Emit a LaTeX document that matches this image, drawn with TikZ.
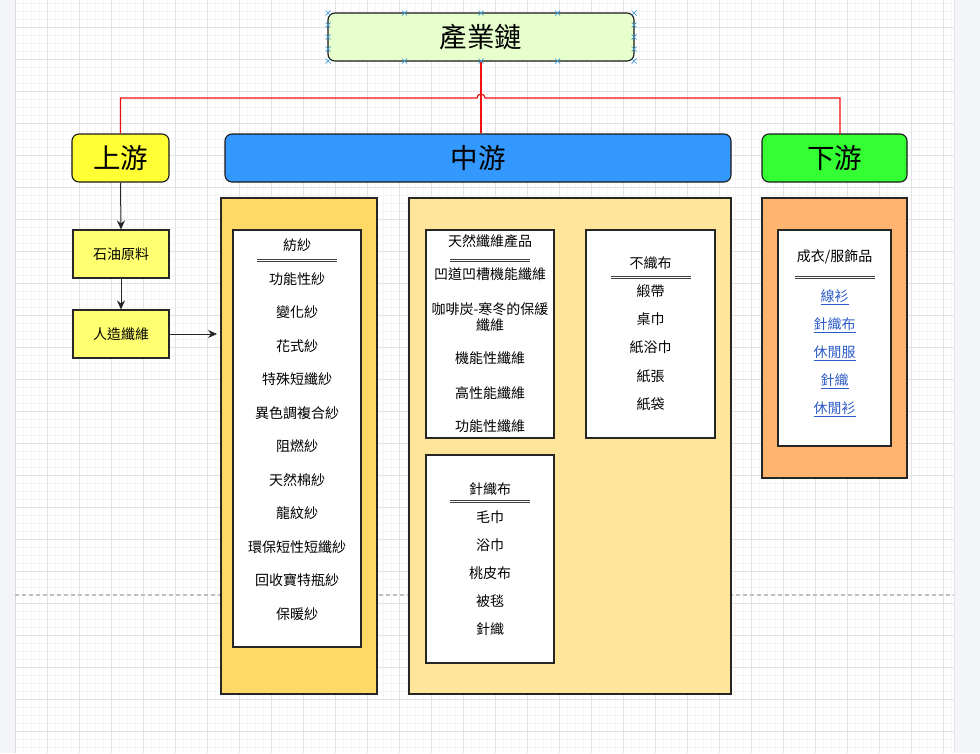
\documentclass[tikz,border=0pt]{standalone}
\usepackage{fontspec}
\newfontfamily\cjk{Noto Sans CJK TC}
\usepackage{xcolor}
\usepackage{tikz}
\usetikzlibrary{arrows.meta, positioning, calc}
\definecolor{titlegreen}{HTML}{E6FFCC}
\definecolor{upyellow}{HTML}{FFFF33}
\definecolor{midblue}{HTML}{3399FF}
\definecolor{downgreen}{HTML}{33FF33}
\definecolor{rawyellow}{HTML}{FFFF70}
\definecolor{yarnfill}{HTML}{FFD966}
\definecolor{midfill}{HTML}{FFE599}
\definecolor{downfill}{HTML}{FFB570}
\definecolor{linkblue}{HTML}{2D5BC8}
\definecolor{chainred}{HTML}{F01010}
\definecolor{gridmajor}{HTML}{E2E2E2}
\definecolor{gridminor}{HTML}{F4F4F4}
\definecolor{sidegray}{HTML}{F4F5F8}
\definecolor{handleblue}{HTML}{3A9BDC}

\tikzset{
  stage/.style={draw=black!90, line width=1.1pt, rounded corners=7pt, font=\cjk\fontsize{27.5}{32}\selectfont},
  panel/.style={draw=black!85, line width=1.1pt},
  listbox/.style={draw=black!85, line width=1.1pt, fill=white},
  rawbox/.style={draw=black!85, line width=1.1pt, fill=rawyellow, minimum width=96, minimum height=48, font=\cjk\fontsize{14}{16}\selectfont},
  item/.style={font=\cjk\fontsize{14}{16.5}\selectfont, inner sep=1pt, align=center},
  linkitem/.style={item, text=linkblue},
  rule/.style={draw=black!75, double, double distance=1.4pt, line width=0.8pt},
  arrowline/.style={draw=black!85, line width=1pt, -{Stealth[length=9pt, width=8pt]}},
  redline/.style={draw=chainred, line width=1.2pt},
}

\begin{document}
\begin{tikzpicture}[x=1pt, y=-1pt]
    \useasboundingbox (0,0) rectangle (980,753);
    % canvas
    \fill[white] (15,0) rectangle (954,753);
    \foreach \gx in {15.7,23.7,...,953} \draw[gridminor, line width=0.5pt] (\gx,0) -- (\gx,753);
    \foreach \gy in {3.3,11.3,...,753} \draw[gridminor, line width=0.5pt] (15,\gy) -- (954,\gy);
    \foreach \gx in {15.7,47.7,...,953} \draw[gridmajor, line width=0.7pt] (\gx,0) -- (\gx,753);
    \foreach \gy in {27.3,59.3,...,753} \draw[gridmajor, line width=0.7pt] (15,\gy) -- (954,\gy);
    \fill[sidegray] (0,0) rectangle (15,753);
    \fill[sidegray] (954,0) rectangle (980,753);
    \draw[black!15, line width=0.8pt] (15,0) -- (15,753);
    \draw[black!10, line width=0.8pt] (954,0) -- (954,753);
    \draw[black!25, line width=1.4pt, dash pattern=on 4pt off 3pt] (15,595) -- (954,595);

    % stages
    \node[stage, fill=titlegreen, minimum width=306, minimum height=48] (chain) at (481,37) {產業鏈};
    \node[stage, fill=upyellow, minimum width=97, minimum height=48] (up) at (120.5,158) {上游};
    \node[stage, fill=midblue, minimum width=506, minimum height=48] (mid) at (478,158) {中游};
    \node[stage, fill=downgreen, minimum width=145, minimum height=48] (down) at (834.5,158) {下游};

    % selection handles
    \foreach \hx in {328,404.5,481,557.5,634}
        \foreach \hy in {13,61}
            \draw[handleblue, line width=0.7pt] (\hx-2.5,\hy-2.5) -- (\hx+2.5,\hy+2.5) (\hx-2.5,\hy+2.5) -- (\hx+2.5,\hy-2.5);
    \foreach \hx in {328,634}
        \foreach \hy in {25,37,49}
            \draw[handleblue, line width=0.7pt] (\hx-2.5,\hy-2.5) -- (\hx+2.5,\hy+2.5) (\hx-2.5,\hy+2.5) -- (\hx+2.5,\hy-2.5);

    % red connectors
    \coordinate (hop) at (481,98);
    \coordinate (downin) at (840,134);
    \draw[redline] (chain.south) -- (chain.south |- mid.north);
    \draw[redline] (up.north) |- ($(hop)+(-4,0)$) arc[start angle=180, end angle=360, radius=4] -| (downin);

    % upstream
    \node[rawbox] (oil) at (121,254) {石油原料};
    \node[rawbox] (fiber) at (121,334) {人造纖維};
    \coordinate (yarnin) at (217,334);
    \draw[arrowline] (up.south) -- (oil.north);
    \draw[arrowline] (oil.south) -- (fiber.north);
    \draw[arrowline] (fiber.east) -- (yarnin);

    % yarn panel
    \node[panel, fill=yarnfill, minimum width=156, minimum height=496] (yarnpanel) at (299,446) {};
    \node[listbox, minimum width=128, minimum height=417] (yarnlist) at (297,438.5) {};
    \node[item] (yarnhead) at (297,245) {紡紗};
    \draw[rule] ($(yarnlist.north)+(-40,31)$) -- ($(yarnlist.north)+(40,31)$);
    \foreach \t [count=\i from 0] in {功能性紗,變化紗,花式紗,特殊短纖紗,異色調複合紗,阻燃紗,天然棉紗,龍紋紗,環保短性短纖紗,回收寶特瓶紗,保暖紗}
        \node[item] (yarn\i) at (297,279+33.5*\i) {\t};

    % midstream panel
    \node[panel, fill=midfill, minimum width=322, minimum height=496] (midpanel) at (570,446) {};
    \node[listbox, minimum width=128, minimum height=208] (natbox) at (490,334) {};
    \node[item] (nathead) at (490,241) {天然纖維產品};
    \draw[rule] ($(natbox.north)+(-40,31)$) -- ($(natbox.north)+(40,31)$);
    \foreach \t/\y [count=\i] in {凹道凹槽機能纖維/274, 咖啡炭-寒冬的保緩\\纖維/317, 機能性纖維/358, 高性能纖維/393, 功能性纖維/426}
        \node[item] (nat\i) at (490,\y) {\t};

    \node[listbox, minimum width=129, minimum height=208] (nonwoven) at (650.5,334) {};
    \node[item] (nonhead) at (650.5,263) {不織布};
    \draw[rule] ($(nonwoven.north)+(-40,48)$) -- ($(nonwoven.north)+(40,48)$);
    \foreach \t [count=\i from 0] in {緞帶,桌巾,紙浴巾,紙張,紙袋}
        \node[item] (non\i) at (650.5,291+28.25*\i) {\t};

    \node[listbox, minimum width=128, minimum height=208] (knitbox) at (490,559) {};
    \node[item] (knithead) at (490,489) {針織布};
    \draw[rule] ($(knitbox.north)+(-40,47)$) -- ($(knitbox.north)+(40,47)$);
    \foreach \t [count=\i from 0] in {毛巾,浴巾,桃皮布,被毯,針織}
        \node[item] (knit\i) at (490,517+28*\i) {\t};

    % downstream panel
    \node[panel, fill=downfill, minimum width=145, minimum height=280] (downpanel) at (834.5,338) {};
    \node[listbox, minimum width=113, minimum height=216] (clothes) at (834.5,338) {};
    \node[item] (clotheshead) at (834.5,257) {成衣/服飾品};
    \draw[rule] ($(clothes.north)+(-40,48)$) -- ($(clothes.north)+(40,48)$);
    \foreach \t [count=\i from 0] in {線衫,針織布,休閒服,針織,休閒衫}
        \node[linkitem] (cloth\i) at (834.5,297+28*\i) {\underline{\t}};
\end{tikzpicture}
\end{document}
